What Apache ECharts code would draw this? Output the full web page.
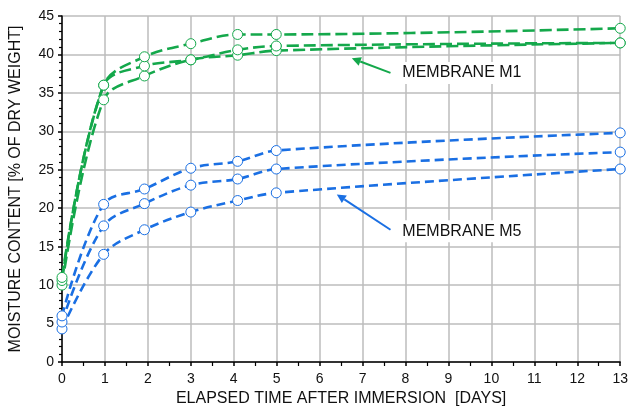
<!DOCTYPE html>
<html><head><meta charset="utf-8">
<script src="https://cdn.jsdelivr.net/npm/echarts@6/dist/echarts.min.js"></script>
<style>html,body{margin:0;padding:0;background:#fff}#c{width:631px;height:412px}</style>
</head><body><div id="c"></div>
<script>
// Elapsed days for each measurement
var days = [0, 0.97, 1.92, 3.0, 4.09, 4.99, 13.0];
// Membrane M1 (green)
var m1a = [11.0, 36.0, 39.7, 41.4, 42.6, 42.6, 43.4];
var m1b = [10.6, 36.0, 38.5, 39.3, 40.6, 41.1, 41.5];
var m1c = [10.0, 34.1, 37.2, 39.3, 39.9, 40.5, 41.5];
// Membrane M5 (blue)
var m5a = [6.0, 20.5, 22.5, 25.2, 26.1, 27.5, 29.8];
var m5b = [5.2, 17.7, 20.6, 23.0, 23.8, 25.1, 27.3];
var m5c = [4.3, 14.0, 17.2, 19.5, 21.0, 22.0, 25.1];
var xTicks = [0,1,2,3,4,5,6,7,8,9,10,11,12,13];
var yTicks = [0,5,10,15,20,25,30,35,40,45];
var labels = [
  {text:'MEMBRANE M1', at:[7.88, 37.6], from:[7.65, 37.6], to:[6.75, 39.5], color:'#14a84b'},
  {text:'MEMBRANE M5', at:[7.88, 17.0], from:[7.65, 17.2], to:[6.4, 21.8], color:'#1a6fe3'}
];

var GREEN = '#14a84b', BLUE = '#1a6fe3';
function pts(arr){ return days.map(function(d,i){ return [d, arr[i]]; }); }
function ser(arr, color, dash){
  return {
    type:'line', data: pts(arr), smooth:0.35,
    symbol:'circle', symbolSize:10, showSymbol:true,
    lineStyle:{color:color, width:2.6, type:dash},
    itemStyle:{color:'#fff', borderColor:color, borderWidth:1},
    z:3
  };
}
var chart = echarts.init(document.getElementById('c'), null, {renderer:'canvas'});
var font = 'Liberation Sans, Arial, sans-serif';
chart.setOption({
  animation:false,
  grid:{left:60, right:7, top:16, bottom:50},
  xAxis:{
    type:'value', min:xTicks[0], max:xTicks[xTicks.length-1], interval:1,
    name:'ELAPSED TIME AFTER IMMERSION  [DAYS]', nameLocation:'middle', nameGap:28,
    nameTextStyle:{fontFamily:font, fontSize:16, color:'#111'},
    axisLine:{show:true, onZero:false, lineStyle:{color:'#000', width:1.5}},
    axisTick:{show:true, inside:false, length:4, lineStyle:{color:'#000', width:1.5}},
    minorTick:{show:true, splitNumber:2, length:4, lineStyle:{color:'#000', width:1.2}},
    axisLabel:{fontFamily:font, fontSize:14, color:'#111', margin:10},
    splitLine:{show:true, lineStyle:{color:'#bdbdbd', width:1.5}}
  },
  yAxis:{
    type:'value', min:yTicks[0], max:yTicks[yTicks.length-1], interval:5,
    name:'MOISTURE CONTENT [% OF DRY WEIGHT]', nameLocation:'middle', nameGap:38,
    nameTextStyle:{fontFamily:font, fontSize:16, color:'#111'},
    axisLine:{show:true, onZero:false, lineStyle:{color:'#000', width:1.5}},
    axisTick:{show:true, inside:false, length:4, lineStyle:{color:'#000', width:1.5}},
    minorTick:{show:true, splitNumber:5, length:3, lineStyle:{color:'#000', width:1.2}},
    axisLabel:{fontFamily:font, fontSize:14, color:'#111', margin:8},
    splitLine:{show:true, lineStyle:{color:'#bdbdbd', width:1.5}}
  },
  series:[
    ser(m5c, BLUE, [9,5]), ser(m5b, BLUE, [9,5]), ser(m5a, BLUE, [9,5]),
    ser(m1c, GREEN, [12,5]), ser(m1b, GREEN, [12,5]), ser(m1a, GREEN, [12,5])
  ]
});
var g = [];
labels.forEach(function(l){
  var p = chart.convertToPixel({gridIndex:0}, l.at);
  var a = chart.convertToPixel({gridIndex:0}, l.from);
  var b = chart.convertToPixel({gridIndex:0}, l.to);
  g.push({type:'text', x:p[0], y:p[1], z:10, style:{text:l.text, fill:'#111', font:'16px '+font, verticalAlign:'middle', align:'left', backgroundColor:'#fff', padding:[3,2,3,2]}});
  var ang = Math.atan2(b[1]-a[1], b[0]-a[0]);
  var hl = 9, hw = 4.5;
  var bx = b[0]-hl*Math.cos(ang), by = b[1]-hl*Math.sin(ang);
  g.push({type:'line', z:10, shape:{x1:a[0], y1:a[1], x2:bx, y2:by}, style:{stroke:l.color, lineWidth:2}});
  g.push({type:'polygon', z:10, shape:{points:[[b[0],b[1]],[bx+hw*Math.sin(ang), by-hw*Math.cos(ang)],[bx-hw*Math.sin(ang), by+hw*Math.cos(ang)]]}, style:{fill:l.color}});
});
chart.setOption({graphic:g});
</script>
</body></html>
